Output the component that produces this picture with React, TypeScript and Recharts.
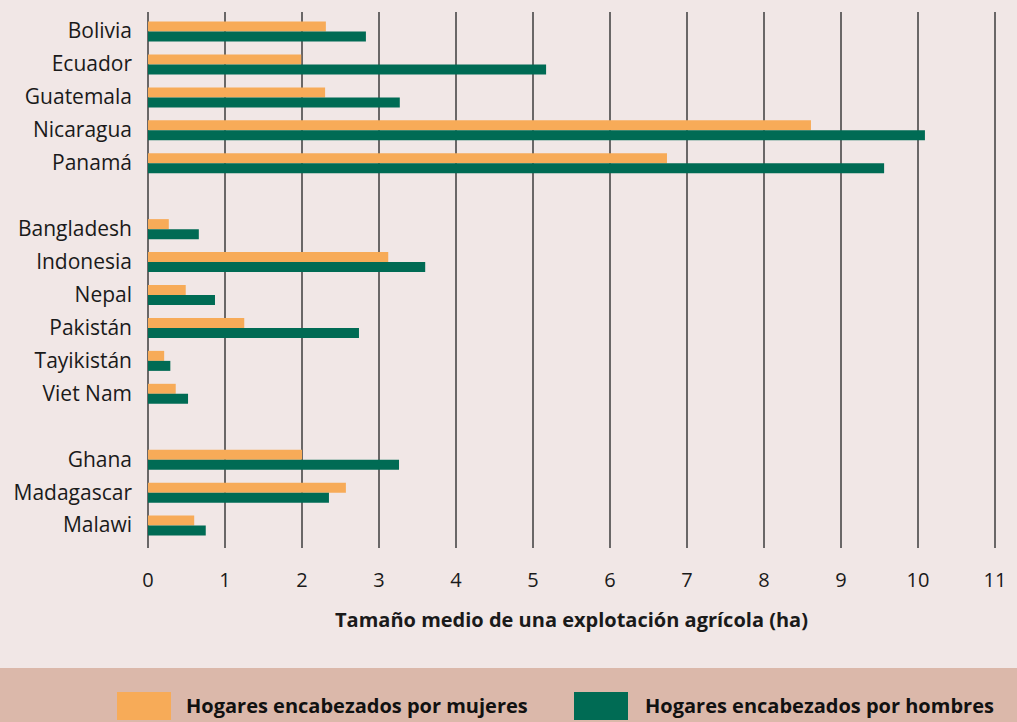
import {
  BarChart,
  Bar,
  XAxis,
  YAxis,
  CartesianGrid,
} from "recharts";

// países (las entradas en blanco separan los grupos regionales)
const categories = [
  "Bolivia",
  "Ecuador",
  "Guatemala",
  "Nicaragua",
  "Panamá",
  " ",
  "Bangladesh",
  "Indonesia",
  "Nepal",
  "Pakistán",
  "Tayikistán",
  "Viet Nam",
  "  ",
  "Ghana",
  "Madagascar",
  "Malawi",
];
const mujeres = [2.31, 1.99, 2.3, 8.61, 6.74, null, 0.27, 3.12, 0.49, 1.25, 0.21, 0.36, null, 2.0, 2.57, 0.6];
const hombres = [2.83, 5.17, 3.27, 10.09, 9.56, null, 0.66, 3.6, 0.87, 2.74, 0.29, 0.52, null, 3.26, 2.35, 0.75];
const xTicks = [0, 1, 2, 3, 4, 5, 6, 7, 8, 9, 10, 11];

const seriesNames = ["Hogares encabezados por mujeres", "Hogares encabezados por hombres"];
const ORANGE = "#f7ab58";
const GREEN = "#006b54";
const FONT = "'Open Sans', 'Noto Sans', sans-serif";

const data = categories.map((name, i) => ({
  name,
  mujeres: mujeres[i],
  hombres: hombres[i],
}));

export default function App() {
  return (
    <div
      style={{
        position: "absolute",
        left: 0,
        top: 0,
        width: 1017,
        height: 722,
        background: "#f1e7e6",
        fontFamily: FONT,
      }}
    >
      <BarChart
        width={1017}
        height={668}
        data={data}
        layout="vertical"
        margin={{ top: 12, right: 22, bottom: 30, left: 0 }}
        barSize={10}
        barGap={0}
      >
        <CartesianGrid horizontal={false} stroke="#3c3c3c" strokeWidth={1.5} />
        <XAxis
          type="number"
          domain={[0, 11]}
          ticks={xTicks}
          interval={0}
          axisLine={false}
          tickLine={false}
          tickSize={0}
          tickMargin={25}
          height={90}
          tick={{ fill: "#1a1a1a", fontSize: 20, fontFamily: FONT }}
          label={{
            value: "Tamaño medio de una explotación agrícola (ha)",
            position: "insideBottom",
            offset: 11,
            fill: "#1a1a1a",
            fontSize: 20,
            fontWeight: 700,
            fontFamily: FONT,
          }}
        />
        <YAxis
          type="category"
          dataKey="name"
          width={148}
          interval={0}
          axisLine={false}
          tickLine={false}
          tickSize={0}
          tickMargin={16}
          padding={{ top: 3.5, bottom: 5.5 }}
          tick={{ fill: "#1a1a1a", fontSize: 21, fontFamily: FONT, dy: -1 }}
        />
        <Bar dataKey="mujeres" name={seriesNames[0]} fill={ORANGE} isAnimationActive={false} />
        <Bar dataKey="hombres" name={seriesNames[1]} fill={GREEN} isAnimationActive={false} />
      </BarChart>
      <div
        style={{
          position: "absolute",
          left: 0,
          top: 668,
          width: 1017,
          height: 54,
          background: "#dbb8aa",
        }}
      >
        {[
          { color: ORANGE, name: seriesNames[0], left: 117, textLeft: 186 },
          { color: GREEN, name: seriesNames[1], left: 574, textLeft: 645 },
        ].map((item) => (
          <div key={item.name}>
            <div
              style={{
                position: "absolute",
                left: item.left,
                top: 24,
                width: 54,
                height: 28,
                background: item.color,
              }}
            />
            <div
              style={{
                position: "absolute",
                left: item.textLeft,
                top: 24,
                height: 28,
                lineHeight: "28px",
                fontSize: 20,
                fontWeight: 700,
                color: "#111",
                whiteSpace: "nowrap",
              }}
            >
              {item.name}
            </div>
          </div>
        ))}
      </div>
    </div>
  );
}
